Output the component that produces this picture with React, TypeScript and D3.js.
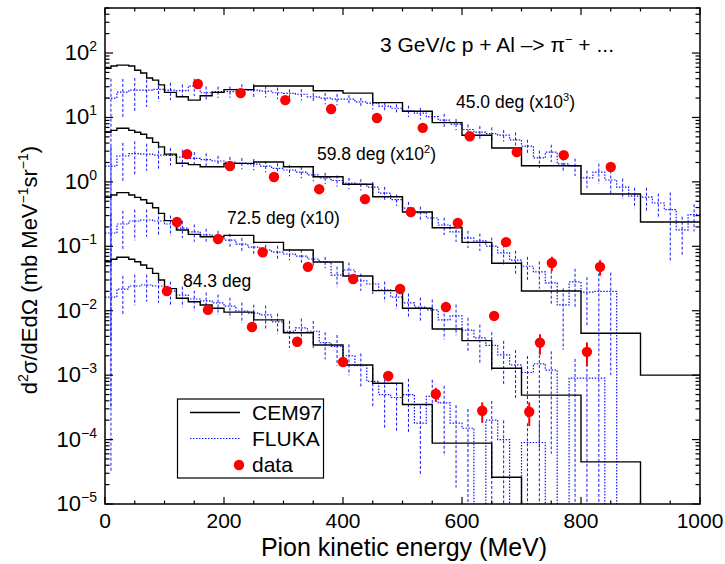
import React from 'react';
import * as d3 from 'd3';

// ---------------- data ----------------
// CEM97 histogram bin edges (MeV) and contents (scaled units as plotted)
const cemEdges = [0, 10, 20, 30, 40, 50, 60, 70, 80, 90, 100, 120, 140, 160, 180, 200, 250, 300, 350, 400, 450, 500, 550, 600, 650, 700, 800, 900, 1000];
const cem45 = [58, 63, 65, 65, 63, 54, 49, 41, 38, 32, 24.5, 21, 18.6, 21.7, 24.5, 27, 30.7, 30.7, 26, 23.9, 17, 12.5, 8.3, 5.3, 3.35, 1.78, 0.65, 0.238];
const cem60 = [5.9, 6.3, 6.8, 6.8, 6.3, 5.9, 5.5, 4.8, 4.1, 3.5, 2.7, 1.95, 1.85, 1.72, 1.72, 1.94, 2.03, 1.72, 1.2, 0.917, 0.589, 0.34, 0.194, 0.115, 0.0545, 0.0202, 0.00446, 0.001];
const cem72 = [0.575, 0.625, 0.68, 0.68, 0.625, 0.575, 0.527, 0.465, 0.397, 0.325, 0.25, 0.179, 0.153, 0.141, 0.141, 0.148, 0.115, 0.0875, 0.057, 0.0346, 0.0205, 0.0109, 0.0052, 0.00343, 0.00128, 0.00049, 0.000045, 0];
const cem84 = [0.0577, 0.0628, 0.0675, 0.0675, 0.0628, 0.0577, 0.0512, 0.0455, 0.038, 0.03, 0.022, 0.0156, 0.0138, 0.0123, 0.0109, 0.0095, 0.0072, 0.00456, 0.00294, 0.00144, 0.00075, 0.00035, 0.000088, 0.000088, 0.000026, 0, 0, 0];

// FLUKA histogram (20 MeV bins) and relative errors
const flukaEdges = [0, 20, 40, 60, 80, 100, 120, 140, 160, 180, 200, 220, 240, 260, 280, 300, 320, 340, 360, 380, 400, 420, 440, 460, 480, 500, 520, 540, 560, 580, 600, 620, 640, 660, 680, 700, 720, 740, 760, 780, 800, 820, 840, 860, 880, 900, 920, 940, 960, 980, 1000];
const fl45 = [20, 24.8, 26.5, 26.5, 27.3, 26.5, 26, 30.7, 24.2, 25.1, 25.2, 27.3, 26.5, 25.7, 24.2, 23.7, 22.9, 20.9, 20, 19.3, 19.3, 17.5, 16.7, 15, 13.9, 12.7, 11.7, 10.3, 9.1, 7.9, 6.5, 5.9, 5.6, 5.3, 4.5, 3.6, 2.35, 2.9, 1.9, 1.76, 1.15, 1.42, 1.07, 0.83, 0.6, 0.58, 0.47, 0.37, 0.18, 0.31];
const fl60 = [1.76, 2.52, 2.75, 2.7, 2.61, 2.57, 2.43, 2.32, 2.22, 2.11, 2.03, 1.96, 1.89, 1.76, 1.62, 1.53, 1.42, 1.28, 1.15, 1.05, 0.96, 0.92, 0.83, 0.67, 0.53, 0.39, 0.33, 0.275, 0.214, 0.167, 0.134, 0.121, 0.101, 0.079, 0.061, 0.049, 0.04, 0.027, 0.0123, 0.028, 0.0195, 0.02, 0.02, 0, 0, 0, 0, 0, 0, 0];
const fl72 = [0.161, 0.222, 0.247, 0.256, 0.247, 0.222, 0.192, 0.168, 0.15, 0.139, 0.125, 0.108, 0.097, 0.0875, 0.0815, 0.076, 0.0706, 0.0635, 0.057, 0.0358, 0.0429, 0.029, 0.026, 0.021, 0.0163, 0.0132, 0.0114, 0.0103, 0.0072, 0.0083, 0.005, 0.0038, 0.0029, 0.00206, 0.00144, 0.0011, 0.0015, 0.0012, 0, 0.0009, 0.0009, 0.0009, 0, 0, 0, 0, 0, 0, 0, 0];
const fl84 = [0.0163, 0.0217, 0.0242, 0.0251, 0.0242, 0.0202, 0.0175, 0.0152, 0.0142, 0.0132, 0.0118, 0.0099, 0.0092, 0.0086, 0.0067, 0.0048, 0.0054, 0.0048, 0.0032, 0.0028, 0.002, 0.0014, 0.0008, 0.0005, 0.00045, 0.0005, 0.00018, 0.00047, 0.00037, 0.00018, 0.00015, 0, 0.0002, 0.0001, 0, 0.00009, 0.00009, 0, 0, 0, 0, 0, 0, 0, 0, 0, 0, 0, 0, 0];
const fe45 = [0.998, 0.6, 0.55, 0.45, 0.35, 0.3, 0.25, 0.3, 0.25, 0.2, 0.2, 0.2, 0.25, 0.2, 0.2, 0.15, 0.2, 0.15, 0.2, 0.2, 0.15, 0.15, 0.2, 0.15, 0.15, 0.2, 0.2, 0.15, 0.25, 0.2, 0.2, 0.25, 0.25, 0.2, 0.3, 0.25, 0.3, 0.3, 0.25, 0.3, 0.3, 0.35, 0.4, 0.35, 0.35, 0.4, 0.4, 0.85, 0.6, 0.45];
const fe60 = [0.998, 0.6, 0.55, 0.45, 0.4, 0.3, 0.3, 0.25, 0.25, 0.2, 0.2, 0.2, 0.2, 0.2, 0.2, 0.2, 0.2, 0.2, 0.2, 0.2, 0.2, 0.2, 0.2, 0.25, 0.2, 0.25, 0.25, 0.25, 0.3, 0.3, 0.3, 0.3, 0.35, 0.35, 0.4, 0.4, 0.45, 0.55, 0.8, 0.6, 0.7, 0.9, 0.95, 0, 0, 0, 0, 0, 0, 0];
const fe72 = [0.998, 0.6, 0.5, 0.45, 0.4, 0.35, 0.3, 0.3, 0.25, 0.25, 0.25, 0.25, 0.25, 0.2, 0.25, 0.2, 0.25, 0.25, 0.2, 0.35, 0.3, 0.3, 0.3, 0.35, 0.35, 0.4, 0.4, 0.45, 0.5, 0.5, 0.55, 0.6, 0.6, 0.65, 0.7, 0.8, 0.95, 0.95, 0, 0.99, 0.99, 0.99, 0, 0, 0, 0, 0, 0, 0, 0];
const fe84 = [0.998, 0.6, 0.5, 0.45, 0.45, 0.4, 0.35, 0.35, 0.35, 0.35, 0.35, 0.35, 0.35, 0.4, 0.35, 0.45, 0.4, 0.45, 0.45, 0.5, 0.5, 0.55, 0.6, 0.7, 0.7, 0.75, 0.85, 0.8, 0.85, 0.9, 0.99, 0, 0.99, 0.99, 0, 0.99, 0.99, 0, 0, 0, 0, 0, 0, 0, 0, 0, 0, 0, 0, 0];

// measured data (energy MeV, value, relative error)
const dataE45 = [156, 228, 303, 380, 457, 534, 613, 692, 771, 850];
const dataV45 = [33, 23.9, 18.6, 13.5, 9.8, 6.9, 5.1, 2.9, 2.6, 1.7];
const dataR45 = [0.05, 0.05, 0.05, 0.05, 0.05, 0.05, 0.06, 0.08, 0.1, 0.1];
const dataE60 = [138, 210, 284, 360, 437, 514, 593, 674, 751, 832];
const dataV60 = [2.7, 1.76, 1.19, 0.77, 0.54, 0.34, 0.23, 0.116, 0.055, 0.048];
const dataR60 = [0.05, 0.05, 0.05, 0.05, 0.05, 0.05, 0.08, 0.1, 0.25, 0.27];
const dataE72 = [121, 190, 265, 341, 417, 496, 573, 654, 731, 810];
const dataV72 = [0.238, 0.13, 0.081, 0.048, 0.031, 0.0217, 0.0114, 0.0083, 0.0032, 0.0023];
const dataR72 = [0.05, 0.05, 0.05, 0.05, 0.06, 0.07, 0.1, 0.13, 0.35, 0.4];
const dataE84 = [104, 173, 247, 323, 400, 476, 556, 634, 713];
const dataV84 = [0.0202, 0.0103, 0.0056, 0.0033, 0.0016, 0.00097, 0.00051, 0.00028, 0.00027];
const dataR84 = [0.05, 0.05, 0.06, 0.07, 0.08, 0.17, 0.25, 0.35, 0.4];

const xTickValues = [0, 200, 400, 600, 800, 1000];
const yDecades = [-5, -4, -3, -2, -1, 0, 1, 2];
const seriesLabels = [
  { main: '45.0 deg (x10', sup: '3', tail: ')', e: 456, v: 108 },
  { main: '59.8 deg (x10', sup: '2', tail: ')', e: 317, v: 160 },
  { main: '72.5 deg (x10)', sup: '', tail: '', e: 227, v: 224 },
  { main: '84.3 deg', sup: '', tail: '', e: 183, v: 287 },
];

const series = [
  { cem: cem45, fl: fl45, fe: fe45, de: dataE45, dv: dataV45, dr: dataR45 },
  { cem: cem60, fl: fl60, fe: fe60, de: dataE60, dv: dataV60, dr: dataR60 },
  { cem: cem72, fl: fl72, fe: fe72, de: dataE72, dv: dataV72, dr: dataR72 },
  { cem: cem84, fl: fl84, fe: fe84, de: dataE84, dv: dataV84, dr: dataR84 },
];

// ---------------- layout ----------------
const W = 725, H = 564;
const X0 = 105, X1 = 700, Y0 = 8, Y1 = 504;
const FONT = "'Liberation Sans', Arial, Helvetica, sans-serif";
const BLUE = '#1414ff';

export default function App() {
  const x = d3.scaleLinear().domain([0, 1000]).range([X0, X1]);
  const y = d3.scaleLog().domain([1e-5, 500]).range([Y1, Y0]);
  const yc = (v: number) => (v > 0 ? y(v) : Y1 + 6);

  const histPath = (edges: number[], vals: number[]) => {
    const pts: [number, number][] = [];
    vals.forEach((v, i) => {
      pts.push([x(edges[i]), yc(v)]);
      pts.push([x(edges[i + 1]), yc(v)]);
    });
    return d3.line()(pts) as string;
  };

  const xMinor = x.ticks(20);
  const yAll = y.ticks();

  return (
    <svg width={W} height={H} style={{ position: 'absolute', left: 0, top: 0, background: '#fff' }} fontFamily={FONT}>
      <defs>
        <clipPath id="plotclip">
          <rect x={X0} y={Y0} width={X1 - X0} height={Y1 - Y0} />
        </clipPath>
      </defs>
      <rect x={0} y={0} width={W} height={H} fill="#fff" />
      <g clipPath="url(#plotclip)">
        {series.map((s, si) => (
          <g key={'fe' + si}>
            {s.fl.map((v, i) => {
              const e = s.fe[i];
              if (!(v > 0) || !(e > 0)) return null;
              const cx = x((flukaEdges[i] + flukaEdges[i + 1]) / 2);
              const lo = v * (1 - e);
              return (
                <line key={i} x1={cx} x2={cx} y1={yc(v * (1 + e))} y2={lo > 0 ? yc(lo) : Y1 + 6}
                  stroke={BLUE} strokeWidth={1} strokeDasharray="3 2" />
              );
            })}
            <path d={histPath(flukaEdges, s.fl)} fill="none" stroke={BLUE} strokeWidth={1.2} strokeDasharray="1.5 1.5" />
          </g>
        ))}
        {series.map((s, si) => (
          <path key={'c' + si} d={histPath(cemEdges, s.cem)} fill="none" stroke="#000" strokeWidth={1.4} />
        ))}
        {series.map((s, si) => (
          <g key={'d' + si}>
            {s.de.map((e, i) => (
              <g key={i}>
                <line x1={x(e)} x2={x(e)} y1={y(s.dv[i] * (1 + s.dr[i]))} y2={y(s.dv[i] * (1 - s.dr[i]))} stroke="#ff0000" strokeWidth={2} />
                <circle cx={x(e)} cy={y(s.dv[i])} r={5.2} fill="#ff0000" />
              </g>
            ))}
          </g>
        ))}
      </g>

      {/* frame */}
      <rect x={X0} y={Y0} width={X1 - X0} height={Y1 - Y0} fill="none" stroke="#000" strokeWidth={1.5} />
      {xMinor.map((t) => {
        const major = t % 200 === 0;
        const len = major ? 7 : 3.5;
        return (
          <g key={'xt' + t}>
            <line x1={x(t)} x2={x(t)} y1={Y1} y2={Y1 - len} stroke="#000" strokeWidth={1.2} />
            <line x1={x(t)} x2={x(t)} y1={Y0} y2={Y0 + len} stroke="#000" strokeWidth={1.2} />
          </g>
        );
      })}
      {yAll.map((t, i) => {
        const lg = Math.log10(t);
        const major = Math.abs(lg - Math.round(lg)) < 1e-6;
        const len = major ? 8 : 4.5;
        return (
          <g key={'yt' + i}>
            <line x1={X0} x2={X0 + len} y1={y(t)} y2={y(t)} stroke="#000" strokeWidth={1.2} />
            <line x1={X1} x2={X1 - len} y1={y(t)} y2={y(t)} stroke="#000" strokeWidth={1.2} />
          </g>
        );
      })}
      {xTickValues.map((t) => (
        <text key={'xl' + t} x={x(t)} y={528} textAnchor="middle" fontSize={21}>{t}</text>
      ))}
      {yDecades.map((d) => (
        <text key={'yl' + d} x={97} y={y(Math.pow(10, d)) + 7} textAnchor="end" fontSize={22}>
          10<tspan dy={-9} fontSize={14}>{d < 0 ? '\u2212' + -d : String(d)}</tspan>
        </text>
      ))}

      {/* axis titles */}
      <text x={404} y={556} textAnchor="middle" fontSize={25}>Pion kinetic energy (MeV)</text>
      <text transform="translate(37,270) rotate(-90)" textAnchor="middle" fontSize={22}>
        d<tspan dy={-9} fontSize={14}>2</tspan><tspan dy={9}>σ/dEdΩ (mb MeV</tspan>
        <tspan dy={-9} fontSize={14}>{'\u22121'}</tspan><tspan dy={9}>sr</tspan>
        <tspan dy={-9} fontSize={14}>{'\u22121'}</tspan><tspan dy={9}>)</tspan>
      </text>

      {/* title */}
      <text x={380} y={52} fontSize={21}>
        3 GeV/c p + Al –&gt; π<tspan dy={-8} fontSize={13}>{'\u2212'}</tspan><tspan dy={8}> + ...</tspan>
      </text>

      {/* series annotations */}
      {seriesLabels.map((l, i) => (
        <text key={'sl' + i} x={l.e} y={l.v} fontSize={17.5}>
          {l.main}
          {l.sup ? <tspan dy={-7} fontSize={11}>{l.sup}</tspan> : null}
          {l.tail ? <tspan dy={7}>{l.tail}</tspan> : null}
        </text>
      ))}

      {/* legend */}
      <rect x={177.5} y={399} width={146} height={79} fill="#fff" stroke="#000" strokeWidth={1.2} />
      <line x1={190} x2={240} y1={412.5} y2={412.5} stroke="#000" strokeWidth={1.4} />
      <text x={252} y={419.5} fontSize={21}>CEM97</text>
      <line x1={190} x2={240} y1={438.5} y2={438.5} stroke={BLUE} strokeWidth={1.2} strokeDasharray="1.5 1.5" />
      <text x={252} y={445.5} fontSize={21}>FLUKA</text>
      <circle cx={239} cy={465} r={5.2} fill="#ff0000" />
      <text x={252} y={472} fontSize={21}>data</text>
    </svg>
  );
}
